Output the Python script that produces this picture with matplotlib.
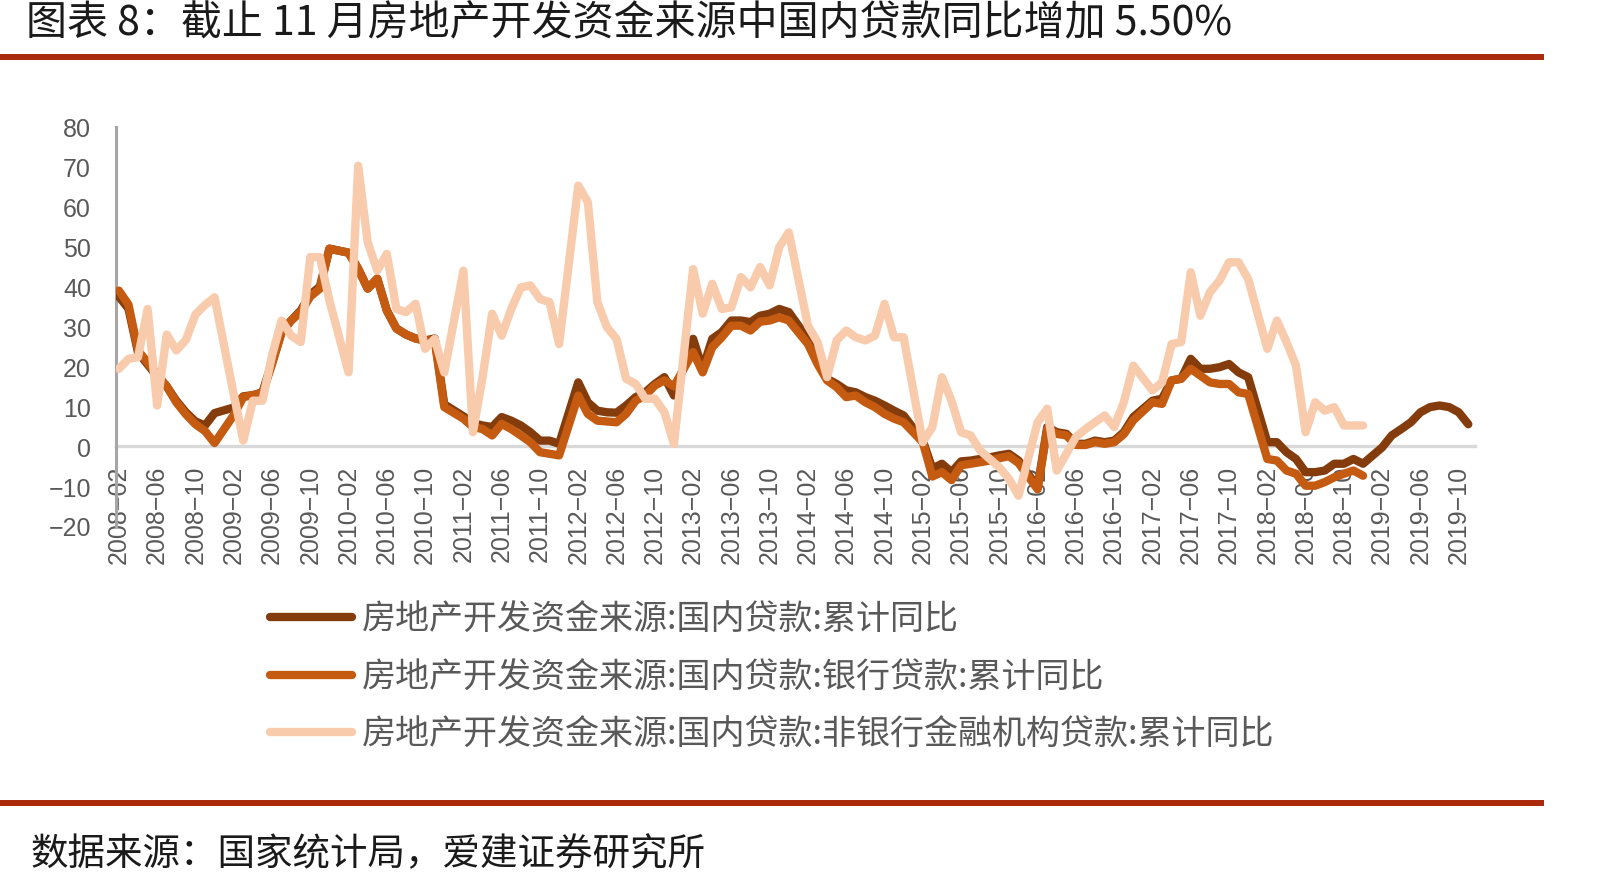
import matplotlib
matplotlib.use('Agg')
import matplotlib.pyplot as plt
from matplotlib.lines import Line2D
from matplotlib.font_manager import FontProperties

# ---------------- data ----------------
# Monthly points Feb..Dec each year (Jan is merged into Feb in the source data)
years = list(range(2008, 2020))
months = list(range(2, 13))

# 房地产开发资金来源:国内贷款:累计同比  (2008-02 .. 2019-11)
domestic = [
    37.5, 34.5, 23.5, 20.5, 17.5, 15.0, 11.4, 8.5, 6.2, 5.2, 8.3,      # 2008
    9.7, 12.5, 12.8, 13.5, 21.0, 28.5, 31.5, 34.0, 38.0, 40.0, 49.5,   # 2009
    48.5, 44.5, 39.5, 42.0, 34.0, 29.5, 28.0, 27.0, 26.5, 27.0, 10.5,  # 2010
    7.5, 5.8, 5.2, 4.8, 7.3, 6.4, 5.2, 3.5, 1.4, 1.4, 0.6,             # 2011
    16.0, 11.0, 8.9, 8.5, 8.4, 10.2, 12.3, 13.5, 15.6, 17.3, 12.7,     # 2012
    26.9, 19.4, 26.9, 28.6, 31.5, 31.5, 31.1, 32.7, 33.2, 34.4, 33.6,  # 2013
    26.9, 21.5, 16.9, 15.6, 14.0, 13.5, 12.3, 11.4, 10.2, 8.9, 7.7,    # 2014
    1.4, -5.6, -4.4, -6.5, -3.8, -3.6, -3.2, -2.8, -2.3, -1.9, -3.6,   # 2015
    -10.3, 4.8, 3.5, 3.1, 0.6, 0.6, 1.4, 1.0, 1.4, 3.5, 7.3,           # 2016
    11.4, 11.9, 16.5, 16.9, 21.9, 19.4, 19.4, 19.8, 20.6, 18.5, 17.3,  # 2017
    1.0, 1.0, -1.5, -3.2, -6.5, -6.5, -6.1, -4.4, -4.4, -3.2, -4.4,    # 2018
    -0.3, 2.7, 4.3, 6.0, 8.5, 9.8, 10.2, 9.8, 8.5, 5.5,                # 2019
]

# 房地产开发资金来源:国内贷款:银行贷款:累计同比  (2008-02 .. 2018-12)
bank = [
    39.0, 35.5, 24.0, 21.0, 18.0, 15.0, 11.0, 8.0, 5.5, 3.8, 0.8,
    7.8, 12.3, 12.8, 13.3, 20.5, 28.5, 31.5, 33.6, 37.5, 39.5, 49.5,
    48.5, 44.5, 39.5, 42.0, 34.0, 29.5, 28.0, 27.0, 26.5, 26.5, 9.8,
    6.9, 4.8, 4.3, 2.7, 5.6, 4.3, 2.7, 1.0, -1.5, -1.9, -2.3,
    12.7, 8.1, 6.4, 6.2, 6.0, 8.1, 11.4, 12.7, 15.2, 16.5, 15.0,
    23.6, 18.5, 24.8, 27.3, 30.2, 30.2, 29.0, 31.2, 31.5, 32.3, 31.5,
    25.6, 20.6, 16.5, 14.8, 12.3, 12.7, 11.0, 9.8, 8.1, 6.9, 6.0,
    1.0, -7.6, -6.5, -8.5, -4.8, -4.4, -4.0, -3.6, -3.0, -2.5, -4.2,
    -10.8, 4.3, 3.1, 2.7, 0.3, 0.3, 1.0, 0.6, 1.0, 3.0, 6.5,
    11.0, 10.6, 16.5, 16.9, 19.4, 17.7, 16.0, 15.6, 15.6, 13.5, 13.1,
    -3.2, -3.6, -6.1, -6.9, -9.9, -9.9, -9.0, -7.8, -6.9, -6.1, -7.4,
]

# 房地产开发资金来源:国内贷款:非银行金融机构贷款:累计同比  (2008-02 .. 2018-12)
nonbank = [
    19.4, 21.9, 22.3, 34.4, 10.2, 28.0, 24.0, 26.6, 33.0, 35.4, 37.3,
    13.0, 1.4, 11.4, 11.4, 22.7, 31.5, 27.7, 26.1, 47.4, 47.4, 36.5,
    18.5, 70.3, 51.1, 44.0, 48.2, 34.4, 33.6, 35.7, 24.4, 26.9, 18.5,
    44.0, 3.5, 17.3, 33.2, 27.7, 34.4, 39.8, 40.3, 36.9, 36.1, 25.6,
    65.3, 61.2, 36.1, 29.8, 26.9, 16.9, 15.6, 11.9, 11.9, 8.5, 0.6,
    44.4, 33.2, 40.7, 34.4, 34.8, 42.4, 39.8, 44.9, 40.3, 49.9, 53.6,
    30.2, 26.1, 17.3, 26.5, 29.0, 27.3, 26.5, 27.7, 35.7, 27.3, 27.3,
    1.0, 4.8, 17.3, 11.4, 3.5, 2.7, -1.1, -3.2, -5.3, -8.2, -12.4,
    6.0, 9.4, -6.1, -1.9, 2.3, 4.3, 6.0, 7.7, 4.8, 11.0, 20.2,
    14.0, 16.0, 25.6, 26.1, 43.6, 32.7, 38.6, 41.5, 46.1, 46.1, 41.9,
    24.4, 31.5, 26.1, 20.2, 3.5, 11.0, 8.9, 9.8, 5.2, 5.2, 5.2,
]

series_names = [
    '房地产开发资金来源:国内贷款:累计同比',
    '房地产开发资金来源:国内贷款:银行贷款:累计同比',
    '房地产开发资金来源:国内贷款:非银行金融机构贷款:累计同比',
]
series_colors = ['#843C0C', '#C55A11', '#F8CBAD']

tick_labels = [f'{y}\u2212{m:02d}' for y in years for m in (2, 6, 10)]

title = '图表 8：截止 11 月房地产开发资金来源中国内贷款同比增加 5.50%'
source = '数据来源：国家统计局，爱建证券研究所'

# ---------------- layout ----------------
W, H = 1617, 887
fig = plt.figure(figsize=(W / 100, H / 100), dpi=100)
plt.rcParams['font.family'] = ['Liberation Sans', 'DejaVu Sans']
cjk = ['Noto Sans CJK SC', 'DejaVu Sans']

ax = fig.add_axes([116 / W, 1 - 527 / H, (1475 - 116) / W, (527 - 128) / H])

# spine placement first (it resets the ticks)
for s in ['top', 'right']:
    ax.spines[s].set_visible(False)
ax.spines['bottom'].set_position(('data', 0))
ax.spines['bottom'].set_color('#D9D9D9')
ax.spines['bottom'].set_linewidth(2.4)
ax.spines['bottom'].set_zorder(1)
ax.spines['left'].set_color('#A6A6A6')
ax.spines['left'].set_linewidth(2.2)

# month index on a monthly date axis (Jan absent -> line connects Dec to Feb)
month_pos = [(y - 2008) * 12 + (m - 2) for y in years for m in months]

lines = []
for vals, name, col in zip([domestic, bank, nonbank], series_names, series_colors):
    ln, = ax.plot(month_pos[:len(vals)], vals, color=col, lw=6.0,
                  solid_joinstyle='round', solid_capstyle='round', label=name,
                  zorder=3)
    lines.append(ln)

ax.set_xlim(-0.3, 141.7)
ax.set_ylim(-20, 80)
ax.set_yticks(range(-20, 81, 10))
ax.set_xticks(range(0, 141, 4))
ax.set_xticklabels(tick_labels)

ax.tick_params(axis='x', length=0, pad=13.5, labelsize=18, labelcolor='#595959',
               labelrotation=90)
ax.tick_params(axis='y', length=0, pad=18, labelsize=18, labelcolor='#595959')

# legend
fig.legend(handles=lines, loc='upper left',
           bbox_to_anchor=(270 / W, 1 - 603 / H),
           prop=FontProperties(family=cjk, size=24.5), labelcolor='#595959',
           frameon=False, handlelength=2.4, handletextpad=0.3,
           labelspacing=0.66, borderpad=0, borderaxespad=0)

# title, source and red rules
fig.text(26 / W, 1 - 24 / H, title, fontsize=29.5, family=cjk, va='center',
         color='#1a1a1a')
fig.text(31 / W, 1 - 855 / H, source, fontsize=27, family=cjk, va='center',
         color='#1a1a1a')
for yy in (58, 804):
    fig.add_artist(Line2D([0, 1544 / W], [1 - yy / H] * 2, color='#AB2A0A',
                          lw=4.3, solid_capstyle='butt'))

fig.savefig('out.png', dpi=100)
